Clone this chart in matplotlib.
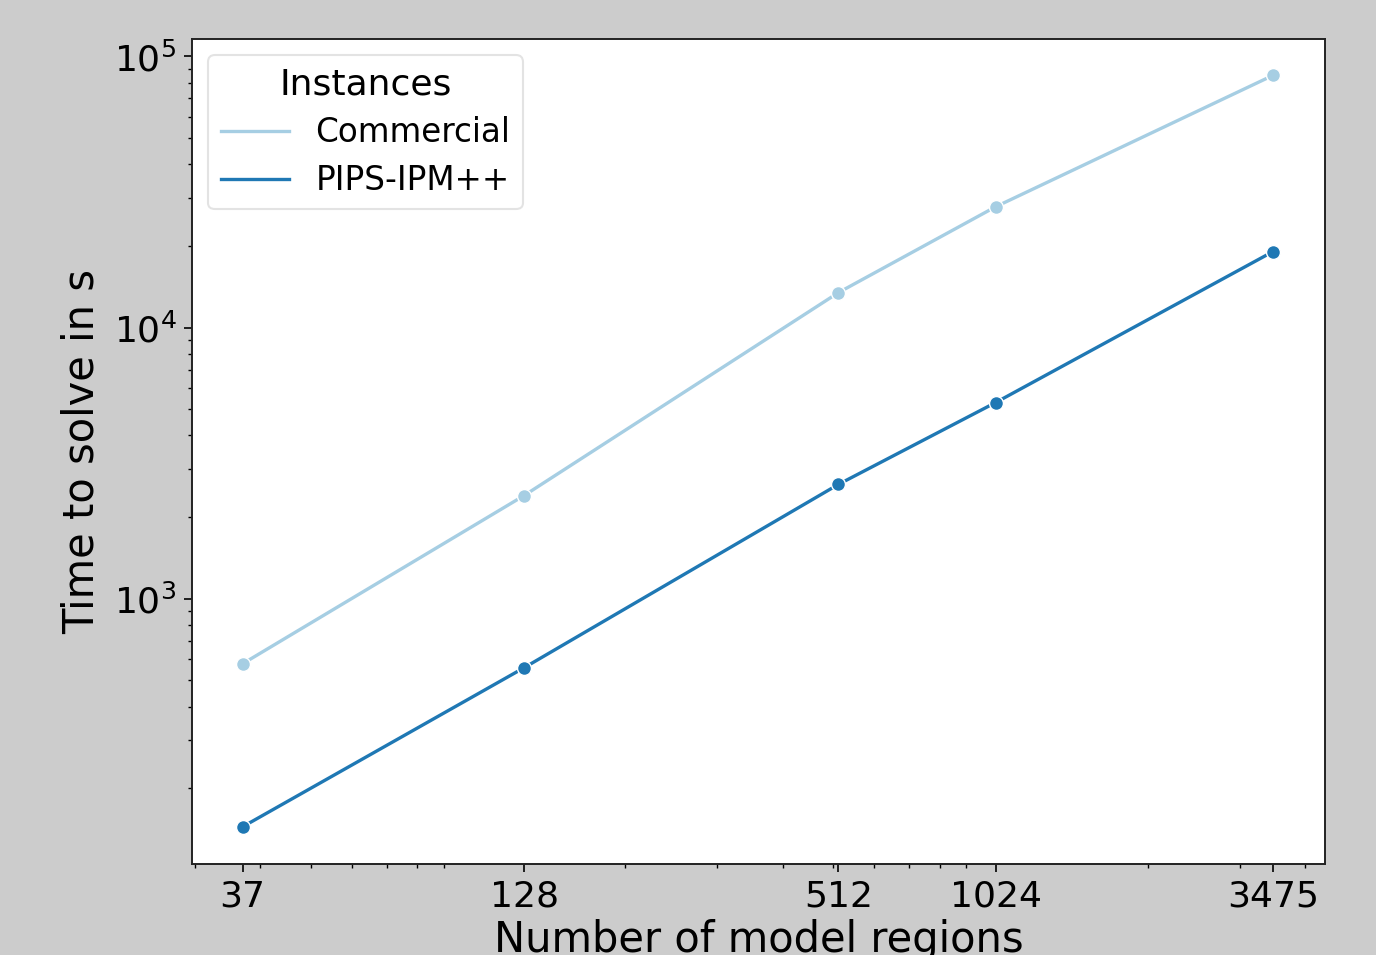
import matplotlib
matplotlib.use("Agg")
import matplotlib.pyplot as plt
from matplotlib.lines import Line2D
from matplotlib.ticker import FixedLocator, FixedFormatter, LogLocator, NullFormatter

regions = [37, 128, 512, 1024, 3475]
commercial = [575, 2400, 13460, 27900, 85100]
pips = [144, 556, 2640, 5290, 19050]
series_names = ["Commercial", "PIPS-IPM++"]
series_colors = ["#a6cee3", "#1f78b4"]
xtick_labels = ["37", "128", "512", "1024", "3475"]

fig = plt.figure(figsize=(13.76, 9.55), dpi=100, facecolor="#cccccc")
ax = fig.add_axes([0.1395, 0.0953, 0.8235, 0.8639])
ax.set_facecolor("white")

for name, vals, col in zip(series_names, [commercial, pips], series_colors):
    ax.plot(regions, vals, color=col, lw=2.4, marker="o", markersize=10,
            markeredgecolor="white", markeredgewidth=1.0, label=name)

ax.set_xscale("log")
ax.set_yscale("log")
ax.set_xlim(29.6, 4375)
ax.set_ylim(105, 116000)

ax.xaxis.set_major_locator(FixedLocator(regions))
ax.xaxis.set_major_formatter(FixedFormatter(xtick_labels))
ax.xaxis.set_minor_locator(LogLocator(base=10, subs=range(2, 10)))
ax.xaxis.set_minor_formatter(NullFormatter())
ax.yaxis.set_minor_locator(LogLocator(base=10, subs=range(2, 10)))
ax.yaxis.set_minor_formatter(NullFormatter())

ax.tick_params(axis="both", which="major", labelsize=26, length=6, width=1.2,
               colors="black", pad=5)
ax.tick_params(axis="both", which="minor", length=3.2, width=1.0)
for s in ax.spines.values():
    s.set_linewidth(1.4)
    s.set_color("#222222")

ax.set_xlabel("Number of model regions", fontsize=30, labelpad=4)
ax.set_ylabel("Time to solve in s", fontsize=30, labelpad=8)

handles = [Line2D([0], [0], color=c, lw=2.4) for c in series_colors]
leg = ax.legend(handles, series_names, title="Instances", loc="upper left",
                fontsize=23.5, title_fontsize=26, frameon=True, fancybox=True,
                borderpad=0.38, handlelength=2.1, labelspacing=0.45)
leg.get_frame().set_edgecolor("#dddddd")
leg.get_frame().set_linewidth(1.5)

fig.savefig("out.png", dpi=100, facecolor=fig.get_facecolor())
